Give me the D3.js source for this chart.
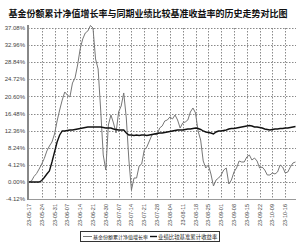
<!DOCTYPE html>
<html><head><meta charset="utf-8">
<script src="https://cdn.jsdelivr.net/npm/d3@7"></script>
<style>html,body{margin:0;padding:0;background:#fff;}svg{display:block;}</style>
</head><body>
<svg id="c" width="300" height="242"></svg>
<script>
const title = "基金份额累计净值增长率与同期业绩比较基准收益率的历史走势对比图";
const seriesNames = ["基金份额累计净值增长率", "业绩比较基准累计收益率"];
const dateLabels = ["23-05-17","23-05-24","23-05-31","23-06-07","23-06-14","23-06-21","23-06-30","23-07-07","23-07-14","23-07-21","23-07-28","23-08-04","23-08-11","23-08-18","23-08-25","23-09-01","23-09-08","23-09-15","23-09-22","23-10-09","23-10-16"];
const yTicks = [-4.12, 0.00, 4.12, 8.24, 12.36, 16.48, 20.60, 24.72, 28.84, 32.96, 37.08];
const fundReturn = [0,0.24,1.33,2.05,3.13,4.34,5.66,7.47,8.67,9.64,11.57,14.70,17.35,19.76,21.69,20.96,20.48,23.86,25.06,28.19,32.05,34.46,35.90,36.39,37.70,37.10,29.64,27.23,17.35,6.51,2.89,13.73,16.14,14.22,11.81,16.87,18.31,21.45,15.42,5.30,-1.93,0.96,0.96,3.86,4.34,7.71,8.43,9.88,11.33,11.57,11.33,13.01,13.49,14.70,14.94,15.66,15.18,16.14,14.94,13.01,14.22,14.46,14.94,16.87,17.83,16.63,12.29,10.12,5.06,3.37,4.10,1.93,-0.96,0.48,0.96,1.69,2.89,3.37,-0.48,0.48,2.41,3.37,5.06,4.82,4.82,6.02,6.51,5.30,5.78,5.06,3.37,3.61,2.89,1.69,1.69,2.17,1.93,2.41,4.10,3.61,2.17,2.41,3.61,4.58,4.82];
const benchReturn = [0,0,0,0,0,0.36,1.08,1.93,2.65,4.82,7.23,9.64,11.33,12.29,12.29,12.41,12.53,12.53,12.65,12.77,12.89,13.01,13.13,13.25,13.25,13.25,13.25,13.25,13.25,13.13,13.01,13.01,13.01,12.77,12.65,12.53,12.53,12.53,11.81,11.33,11.33,11.20,11.33,11.20,11.33,11.33,11.20,11.33,11.45,11.57,11.69,11.81,11.81,11.93,12.05,12.17,12.29,12.41,12.53,12.53,12.53,12.65,12.77,12.77,12.89,13.01,12.89,12.65,12.29,12.05,11.93,11.81,11.57,12.05,12.29,12.29,12.41,12.53,12.77,12.89,12.89,13.01,13.13,13.25,13.37,13.49,13.61,13.49,13.25,13.25,13.13,13.01,12.77,12.65,12.53,12.65,12.77,12.77,12.89,12.89,13.01,13.01,13.13,13.25,13.37];
const tickStep = 5;

const svg = d3.select("#c");
const n = fundReturn.length;
const x = d3.scaleLinear().domain([0, n - 1]).range([28.9, 295.5]);
const y = d3.scaleLinear().domain([-4.12, 37.08]).range([199.1, 28.1]);
const xL = 28, xR = 296;

svg.append("text").attr("x", 148).attr("y", 17).attr("text-anchor", "middle")
  .attr("font-family", "Noto Sans CJK SC").attr("font-weight", "bold").attr("font-size", 9).attr("fill", "#111")
  .text(title);

const tickIdx = dateLabels.map((d, i) => i * tickStep);

// horizontal grid
svg.append("g").selectAll("line").data(yTicks.slice(1)).join("line")
  .attr("x1", xL).attr("x2", xR).attr("y1", d => Math.round(y(d)) + 0.5).attr("y2", d => Math.round(y(d)) + 0.5)
  .attr("stroke", "#8a8a8a").attr("stroke-width", 1).attr("stroke-dasharray", "1.5,1.5");
// vertical grid
svg.append("g").selectAll("line").data(tickIdx.slice(1)).join("line")
  .attr("x1", d => Math.round(x(d)) + 0.5).attr("x2", d => Math.round(x(d)) + 0.5)
  .attr("y1", 28).attr("y2", 199)
  .attr("stroke", "#8a8a8a").attr("stroke-width", 1).attr("stroke-dasharray", "1.5,1.5");

// axes lines
svg.append("line").attr("x1", xL).attr("x2", xR).attr("y1", 199.5).attr("y2", 199.5).attr("stroke", "#999");
svg.append("line").attr("x1", 28).attr("x2", 28).attr("y1", 25).attr("y2", 200).attr("stroke", "#888").attr("stroke-width", 2);

// y labels
svg.append("g").selectAll("text").data(yTicks).join("text")
  .attr("x", 25).attr("y", d => y(d) + 2).attr("text-anchor", "end")
  .attr("font-family", "Liberation Sans").attr("font-size", 6).attr("fill", "#444")
  .text(d => d.toFixed(2) + "%");

// x labels
svg.append("g").selectAll("text").data(tickIdx).join("text")
  .attr("transform", d => `translate(${x(d) + 2},204) rotate(-90)`)
  .attr("text-anchor", "end")
  .attr("font-family", "Liberation Sans").attr("font-size", 5.5).attr("fill", "#444")
  .text((d, i) => dateLabels[i]);

// lines
const line = arr => d3.line().x((d, i) => x(i)).y(d => y(d))(arr);
svg.append("path").attr("d", line(fundReturn)).attr("fill", "none").attr("stroke", "#777").attr("stroke-width", 1);
svg.append("path").attr("d", line(benchReturn)).attr("fill", "none").attr("stroke", "#111").attr("stroke-width", 1.4);

// legend
const lg = svg.append("g");
lg.append("rect").attr("x", 80.5).attr("y", 231.5).attr("width", 139).attr("height", 10).attr("fill", "#fff").attr("stroke", "#333");
lg.append("line").attr("x1", 83).attr("x2", 92).attr("y1", 236.5).attr("y2", 236.5).attr("stroke", "#777").attr("stroke-width", 1);
lg.append("text").attr("x", 93).attr("y", 238.6).attr("font-family", "Noto Sans CJK SC").attr("font-size", 5).attr("fill", "#222").text(seriesNames[0]);
lg.append("line").attr("x1", 150).attr("x2", 157).attr("y1", 236.5).attr("y2", 236.5).attr("stroke", "#111").attr("stroke-width", 1.4);
lg.append("text").attr("x", 158).attr("y", 238.6).attr("font-family", "Noto Sans CJK SC").attr("font-size", 5.4).attr("fill", "#222").text(seriesNames[1]);
</script>
</body></html>
